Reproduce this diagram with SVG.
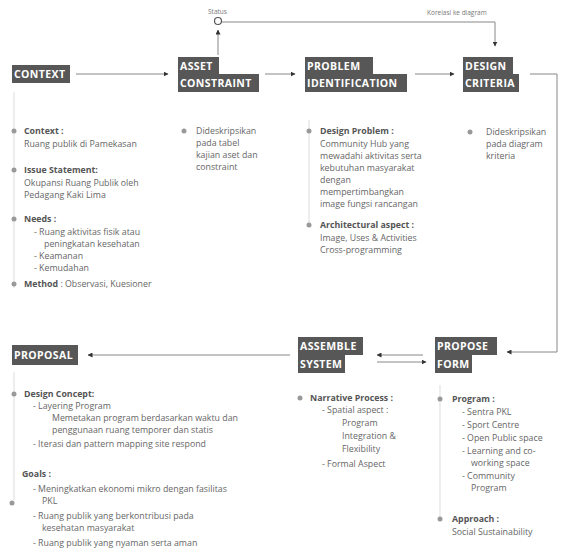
<svg xmlns="http://www.w3.org/2000/svg" width="562" height="551" viewBox="0 0 562 551">
<defs>
<marker id="ah" viewBox="0 0 10 10" refX="9" refY="5" markerWidth="5" markerHeight="5" orient="auto-start-reverse"><path d="M0,0 L10,5 L0,10 z" fill="#333"/></marker>
<style>
.hb{fill:#575757}
.ht{fill:#fff;font-family:"Open Sans",sans-serif;font-weight:700;font-size:10.5px;letter-spacing:0.4px}
.t{fill:#666;font-family:"Open Sans",sans-serif;font-size:8.8px}
.b{font-weight:700;fill:#555}
.tl{stroke:#e2e2e2;stroke-width:1.2;fill:none}
.dot{fill:#999}
.c{stroke:#888;stroke-width:1;fill:none}
.lbl{fill:#777;font-family:"Open Sans",sans-serif;font-size:6.5px}
</style>
</defs>
<rect width="562" height="551" fill="#fff"/>

<g id="connectors">
<line class="c" x1="76" y1="74" x2="168" y2="74" marker-end="url(#ah)"/>
<line class="c" x1="265" y1="74" x2="295" y2="74" marker-end="url(#ah)"/>
<line class="c" x1="415" y1="74" x2="454" y2="74" marker-end="url(#ah)"/>
<polyline class="c" points="530,74 557,74 557,352 507,352" marker-end="url(#ah)"/>
<line class="c" x1="423" y1="355" x2="377" y2="355" marker-end="url(#ah)"/>
<line class="c" x1="377" y1="362" x2="426" y2="362" marker-end="url(#ah)"/>
<line class="c" x1="290" y1="355" x2="88" y2="355" marker-end="url(#ah)"/>
<line class="c" x1="218" y1="55" x2="218" y2="30" marker-end="url(#ah)"/>
<circle cx="218" cy="21" r="3.5" fill="#fff" stroke="#555" stroke-width="1.2"/>
<polyline class="c" points="222,22 495,22 495,46" marker-end="url(#ah)"/>
<text class="lbl" x="208" y="14">Status</text>
<text class="lbl" x="427" y="15">Korelasi ke diagram</text>
</g>

<g id="context">
<rect class="hb" x="12" y="65" width="58" height="18"/>
<text class="ht" x="14" y="78">CONTEXT</text>
<line class="tl" x1="14" y1="92" x2="14" y2="288"/>
<circle class="dot" cx="14" cy="131" r="2.5"/>
<text class="t b" x="24" y="134">Context :</text>
<text class="t" x="24" y="147">Ruang publik di Pamekasan</text>
<circle class="dot" cx="14" cy="170" r="2.5"/>
<text class="t b" x="24" y="173">Issue Statement:</text>
<text class="t" x="24" y="186">Okupansi Ruang Publik oleh</text>
<text class="t" x="24" y="198">Pedagang Kaki Lima</text>
<circle class="dot" cx="14" cy="219" r="2.5"/>
<text class="t b" x="24" y="222">Needs :</text>
<text class="t" x="34" y="235">-  Ruang aktivitas fisik atau</text>
<text class="t" x="44" y="247">peningkatan kesehatan</text>
<text class="t" x="34" y="259">-  Keamanan</text>
<text class="t" x="34" y="271">-  Kemudahan</text>
<circle class="dot" cx="14" cy="284" r="2.5"/>
<text class="t" x="24" y="287"><tspan class="b">Method</tspan> : Observasi, Kuesioner</text>
</g>

<g id="asset-constraint">
<rect class="hb" x="178" y="57" width="41" height="17"/>
<rect class="hb" x="178" y="74" width="81" height="18"/>
<text class="ht" x="180" y="70">ASSET</text>
<text class="ht" x="180" y="87">CONSTRAINT</text>
<circle class="dot" cx="184" cy="131" r="2.5"/>
<text class="t" x="196" y="134">Dideskripsikan</text>
<text class="t" x="196" y="146">pada tabel</text>
<text class="t" x="196" y="158">kajian aset dan</text>
<text class="t" x="196" y="170">constraint</text>
</g>

<g id="problem-identification">
<rect class="hb" x="305" y="57" width="68" height="17"/>
<rect class="hb" x="305" y="74" width="102" height="18"/>
<text class="ht" x="307" y="70">PROBLEM</text>
<text class="ht" x="307" y="87">IDENTIFICATION</text>
<line class="tl" x1="309" y1="120" x2="309" y2="225"/>
<circle class="dot" cx="309" cy="131" r="2.5"/>
<text class="t b" x="320" y="134">Design Problem :</text>
<text class="t" x="320" y="147">Community Hub yang</text>
<text class="t" x="320" y="159">mewadahi aktivitas serta</text>
<text class="t" x="320" y="171">kebutuhan masyarakat</text>
<text class="t" x="320" y="183">dengan</text>
<text class="t" x="320" y="195">mempertimbangkan</text>
<text class="t" x="320" y="207">image fungsi rancangan</text>
<circle class="dot" cx="309" cy="225" r="2.5"/>
<text class="t b" x="320" y="228">Architectural aspect :</text>
<text class="t" x="320" y="241">Image, Uses &amp; Activities</text>
<text class="t" x="320" y="253">Cross-programming</text>
</g>

<g id="design-criteria">
<rect class="hb" x="463" y="57" width="50" height="17"/>
<rect class="hb" x="463" y="74" width="56" height="18"/>
<text class="ht" x="465" y="70">DESIGN</text>
<text class="ht" x="465" y="87">CRITERIA</text>
<circle class="dot" cx="470" cy="132" r="2.5"/>
<text class="t" x="486" y="135">Dideskripsikan</text>
<text class="t" x="486" y="147">pada diagram</text>
<text class="t" x="486" y="159">kriteria</text>
</g>

<g id="proposal">
<rect class="hb" x="12" y="345" width="66" height="20"/>
<text class="ht" x="14" y="359">PROPOSAL</text>
<line class="tl" x1="14" y1="372" x2="14" y2="500"/>
<circle class="dot" cx="14" cy="394" r="2.5"/>
<text class="t b" x="24" y="397">Design Concept:</text>
<text class="t" x="33" y="409">-  Layering Program</text>
<text class="t" x="52" y="421">Memetakan program berdasarkan waktu dan</text>
<text class="t" x="52" y="433">penggunaan ruang temporer dan statis</text>
<text class="t" x="33" y="447">-  Iterasi dan pattern mapping site respond</text>
<text class="t b" x="22" y="477">Goals :</text>
<circle class="dot" cx="12" cy="503" r="2.5"/>
<text class="t" x="33" y="492">-  Meningkatkan ekonomi mikro dengan fasilitas</text>
<text class="t" x="42" y="504">PKL</text>
<text class="t" x="33" y="519">-  Ruang publik yang berkontribusi pada</text>
<text class="t" x="42" y="531">kesehatan masyarakat</text>
<text class="t" x="33" y="546">-  Ruang publik yang nyaman serta aman</text>
</g>

<g id="assemble-system">
<rect class="hb" x="298" y="337" width="65" height="18"/>
<rect class="hb" x="298" y="355" width="47" height="18"/>
<text class="ht" x="300" y="350">ASSEMBLE</text>
<text class="ht" x="300" y="368">SYSTEM</text>
<circle class="dot" cx="300" cy="398" r="2.5"/>
<text class="t b" x="310" y="401">Narrative Process :</text>
<text class="t" x="322" y="413">-  Spatial aspect :</text>
<text class="t" x="342" y="426">Program</text>
<text class="t" x="342" y="439">Integration &amp;</text>
<text class="t" x="342" y="452">Flexibility</text>
<text class="t" x="322" y="467">-  Formal Aspect</text>
</g>

<g id="propose-form">
<rect class="hb" x="435" y="337" width="62" height="18"/>
<rect class="hb" x="435" y="355" width="37" height="18"/>
<text class="ht" x="437" y="350">PROPOSE</text>
<text class="ht" x="437" y="368">FORM</text>
<line class="tl" x1="440" y1="385" x2="440" y2="520"/>
<circle class="dot" cx="440" cy="399" r="2.5"/>
<text class="t b" x="452" y="402">Program :</text>
<text class="t" x="462" y="415">-  Sentra PKL</text>
<text class="t" x="462" y="428">-  Sport Centre</text>
<text class="t" x="462" y="441">-  Open Public space</text>
<text class="t" x="462" y="454">-  Learning and co-</text>
<text class="t" x="471" y="466">working space</text>
<text class="t" x="462" y="479">-  Community</text>
<text class="t" x="471" y="491">Program</text>
<circle class="dot" cx="440" cy="519" r="2.5"/>
<text class="t b" x="452" y="522">Approach :</text>
<text class="t" x="452" y="535">Social Sustainability</text>
</g>
</svg>
